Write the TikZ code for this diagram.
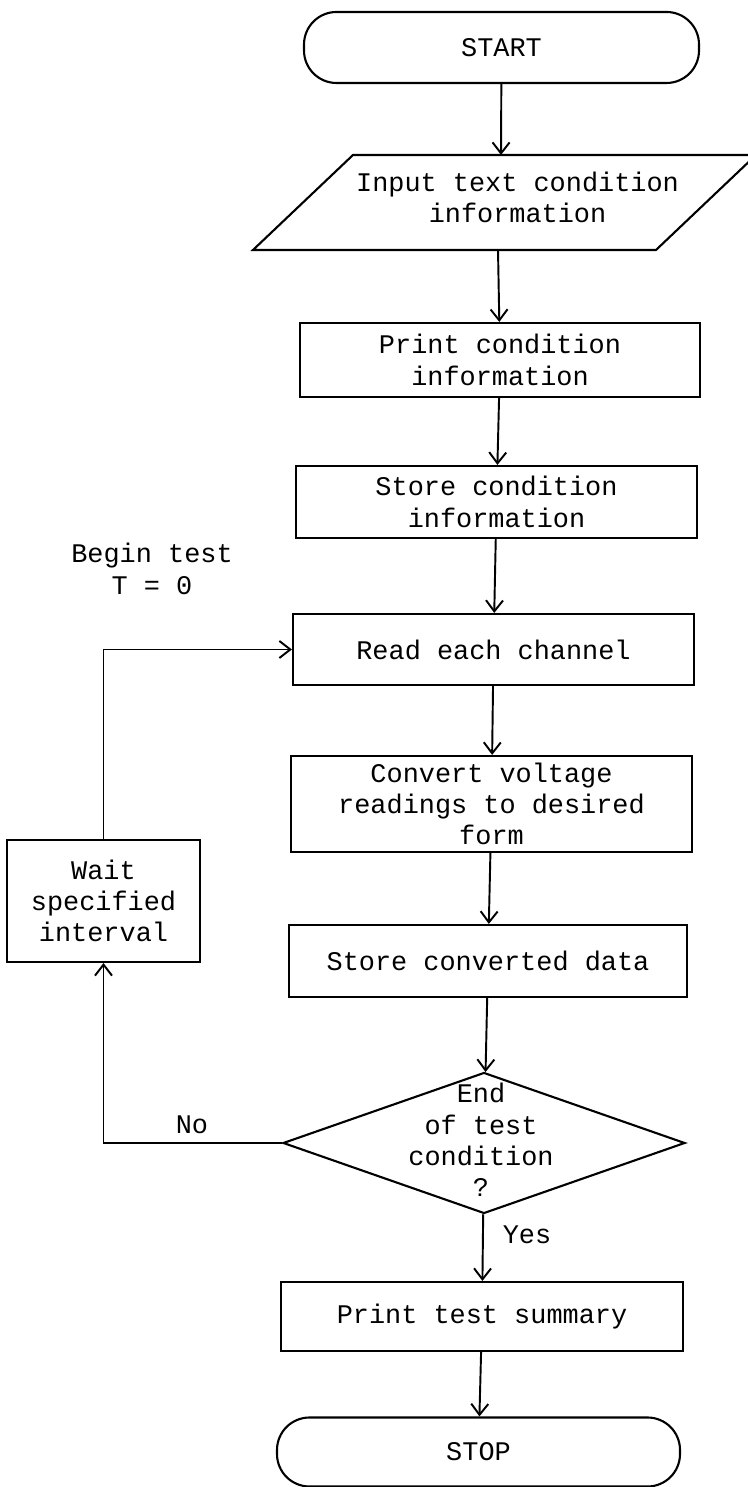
\documentclass[tikz,border=0pt]{standalone}
\usepackage{fontspec}
\setmonofont{Liberation Mono}
\usetikzlibrary{shapes.geometric,arrows.meta}

\begin{document}
\begin{tikzpicture}[
        >={Straight Barb[length=2.2mm,width=3.4mm]},
        every node/.style={font=\ttfamily\fontsize{15.3pt}{17.8pt}\selectfont},
        box/.style={draw, line width=1.2pt, align=center, inner sep=0pt},
        term/.style={box, rounded corners=0.65cm},
        decide/.style={draw, line width=1.2pt, diamond, inner sep=0pt},
        flow/.style={->, line width=1.1pt}
    ]
        \useasboundingbox (0,0) rectangle (14.96,29.74);

        % Coordinates
        \coordinate (inpTL) at (7.06,26.64);
        \coordinate (inpTR) at (15.12,26.64);
        \coordinate (inpBR) at (13.12,24.74);
        \coordinate (inpBL) at (5.06,24.74);
        \coordinate (inptop) at (10.02,26.64);
        \coordinate (inpbot) at (9.96,24.74);

        % Nodes
        \node[term, minimum width=7.9cm, minimum height=1.42cm] (start) at (10.03,28.79) {START};
        \node[align=center] (inp) at (10.35,25.79) {Input text condition\\information};
        \node[box, minimum width=8.0cm, minimum height=1.48cm] (print) at (10.0,22.54) {Print condition\\information};
        \node[box, minimum width=8.02cm, minimum height=1.44cm] (store) at (9.93,19.70) {Store condition\\information};
        \node[align=center] (begin) at (3.04,18.36) {Begin test\\T = 0};
        \node[box, minimum width=8.02cm, minimum height=1.42cm] (read) at (9.87,16.75) {Read each channel};
        \node[box, minimum width=8.02cm, minimum height=1.92cm] (conv) at (9.83,13.66) {Convert voltage\\readings to desired\\form};
        \node[box, minimum width=3.86cm, minimum height=2.44cm] (wait) at (2.07,11.72) {Wait\\specified\\interval};
        \node[box, minimum width=7.96cm, minimum height=1.44cm] (storeconv) at (9.76,10.52) {Store converted data};
        \node[decide, minimum width=8.04cm, minimum height=2.82cm] (dec) at (9.68,6.88) {};
        \node[align=center] (dectxt) at (9.62,6.94) {End\\of test\\condition\\?};
        \node (no) at (3.84,7.24) {No};
        \node (yes) at (10.54,5.04) {Yes};
        \node[box, minimum width=8.04cm, minimum height=1.38cm] (summ) at (9.64,3.41) {Print test summary};
        \node[term, minimum width=8.06cm, minimum height=1.38cm] (stop) at (9.57,0.70) {STOP};

        % Drawing
        \draw[line width=1.2pt] (inpBL) -- (inpBR) -- (inpTR) -- (inpTL) -- cycle;
        \draw[flow] (start) -- (inptop);
        \draw[flow] (inpbot) -- (print);
        \draw[flow] (print) -- (store);
        \draw[flow] (store) -- (read);
        \draw[flow] (read) -- (conv);
        \draw[flow] (conv) -- (storeconv);
        \draw[flow] (storeconv) -- (dec);
        \draw[flow] (dec) -- (summ);
        \draw[flow] (summ) -- (stop);
        \draw[flow] (dec) -| (wait);
        \draw[flow] (wait) |- (read);
\end{tikzpicture}
\end{document}
